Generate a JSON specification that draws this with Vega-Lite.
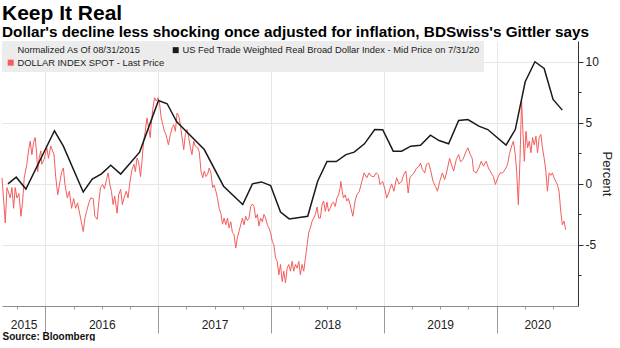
{
"$schema": "https://vega.github.io/schema/vega-lite/v6.json",
"width": 576,
"height": 265,
"padding": {"left": 0, "top": 2, "right": 0, "bottom": 0},
"background": "white",
"title": {"text": "Keep It Real", "subtitle": "Dollar's decline less shocking once adjusted for inflation, BDSwiss's Gittler says", "anchor": "start", "dx": 2, "font": "Liberation Sans", "fontSize": 21, "fontWeight": "bold", "color": "#000", "subtitleFont": "Liberation Sans", "subtitleFontSize": 15.3, "subtitleFontWeight": "bold", "subtitleColor": "#000", "subtitlePadding": 1, "offset": 1},
"config": {"view": {"stroke": null}, "axis": {"labelFont": "Liberation Sans", "titleFont": "Liberation Sans"}},
"datasets": {
"dxy": [
{"t":2015.616,"v":0.5},{"t":2015.645,"v":-3.2},{"t":2015.660,"v":-0.3},{"t":2015.689,"v":-1.15},{"t":2015.704,"v":-0.3},{"t":2015.719,"v":-2.0},{"t":2015.733,"v":-0.3},{"t":2015.748,"v":-1.15},{"t":2015.766,"v":-0.8},{"t":2015.784,"v":-2.65},{"t":2015.799,"v":-1.4},{"t":2015.813,"v":0.5},{"t":2015.836,"v":1.6},{"t":2015.851,"v":2.7},{"t":2015.866,"v":3.5},{"t":2015.881,"v":2.4},{"t":2015.896,"v":3.4},{"t":2015.910,"v":3.8},{"t":2015.922,"v":2.6},{"t":2015.933,"v":1.0},{"t":2015.945,"v":2.1},{"t":2015.960,"v":2.7},{"t":2015.969,"v":1.6},{"t":2015.989,"v":2.0},
{"t":2016.013,"v":2.95},{"t":2016.028,"v":2.1},{"t":2016.048,"v":3.1},{"t":2016.077,"v":2.4},{"t":2016.092,"v":0.6},{"t":2016.110,"v":-0.9},{"t":2016.130,"v":0.2},{"t":2016.145,"v":1.0},{"t":2016.160,"v":1.3},{"t":2016.174,"v":-0.05},{"t":2016.195,"v":-1.15},{"t":2016.213,"v":-0.6},{"t":2016.233,"v":-2.0},{"t":2016.251,"v":-1.2},{"t":2016.269,"v":-2.0},{"t":2016.286,"v":-1.55},{"t":2016.306,"v":-2.5},{"t":2016.336,"v":-3.9},{"t":2016.351,"v":-2.8},{"t":2016.366,"v":-2.25},{"t":2016.386,"v":-1.55},{"t":2016.403,"v":-1.15},{"t":2016.425,"v":-1.2},{"t":2016.439,"v":-2.65},{"t":2016.460,"v":-2.9},{"t":2016.474,"v":-1.5},{"t":2016.489,"v":-0.3},{"t":2016.507,"v":-0.05},{"t":2016.524,"v":-0.4},{"t":2016.542,"v":0.35},{"t":2016.557,"v":0.9},{"t":2016.571,"v":0.0},{"t":2016.586,"v":-0.6},{"t":2016.601,"v":-1.7},{"t":2016.615,"v":-1.0},{"t":2016.636,"v":-2.4},{"t":2016.650,"v":-0.9},{"t":2016.668,"v":-0.45},{"t":2016.683,"v":-1.7},{"t":2016.698,"v":-1.15},{"t":2016.718,"v":-0.6},{"t":2016.733,"v":-1.15},{"t":2016.751,"v":0.2},{"t":2016.769,"v":1.2},{"t":2016.786,"v":1.6},{"t":2016.798,"v":1.0},{"t":2016.813,"v":2.1},{"t":2016.827,"v":1.8},{"t":2016.844,"v":0.6},{"t":2016.857,"v":1.85},{"t":2016.871,"v":3.5},{"t":2016.886,"v":4.3},{"t":2016.901,"v":5.4},{"t":2016.915,"v":4.6},{"t":2016.930,"v":3.8},{"t":2016.939,"v":4.85},{"t":2016.954,"v":6.2},{"t":2016.968,"v":7.05},{"t":2016.983,"v":6.8},{"t":2016.998,"v":7.05},
{"t":2017.012,"v":6.65},{"t":2017.027,"v":5.4},{"t":2017.042,"v":4.85},{"t":2017.056,"v":4.3},{"t":2017.071,"v":4.0},{"t":2017.091,"v":3.2},{"t":2017.109,"v":4.05},{"t":2017.124,"v":4.6},{"t":2017.139,"v":4.85},{"t":2017.153,"v":4.3},{"t":2017.168,"v":5.8},{"t":2017.183,"v":5.55},{"t":2017.197,"v":4.85},{"t":2017.212,"v":3.8},{"t":2017.227,"v":2.8},{"t":2017.241,"v":4.05},{"t":2017.256,"v":4.45},{"t":2017.271,"v":3.8},{"t":2017.285,"v":3.0},{"t":2017.300,"v":2.4},{"t":2017.315,"v":3.5},{"t":2017.329,"v":3.1},{"t":2017.351,"v":2.95},{"t":2017.365,"v":2.6},{"t":2017.380,"v":1.05},{"t":2017.395,"v":0.5},{"t":2017.409,"v":1.05},{"t":2017.424,"v":0.6},{"t":2017.439,"v":0.8},{"t":2017.453,"v":1.3},{"t":2017.468,"v":0.9},{"t":2017.483,"v":-0.3},{"t":2017.497,"v":-0.1},{"t":2017.512,"v":-0.6},{"t":2017.527,"v":-1.2},{"t":2017.541,"v":-2.0},{"t":2017.556,"v":-2.4},{"t":2017.571,"v":-3.3},{"t":2017.585,"v":-2.8},{"t":2017.600,"v":-3.35},{"t":2017.615,"v":-2.8},{"t":2017.629,"v":-3.6},{"t":2017.644,"v":-3.1},{"t":2017.659,"v":-4.0},{"t":2017.673,"v":-4.15},{"t":2017.688,"v":-5.25},{"t":2017.703,"v":-4.4},{"t":2017.717,"v":-3.9},{"t":2017.732,"v":-3.35},{"t":2017.747,"v":-2.8},{"t":2017.762,"v":-3.35},{"t":2017.776,"v":-2.65},{"t":2017.791,"v":-3.0},{"t":2017.806,"v":-2.8},{"t":2017.821,"v":-1.85},{"t":2017.836,"v":-1.65},{"t":2017.850,"v":-1.85},{"t":2017.865,"v":-2.8},{"t":2017.880,"v":-2.5},{"t":2017.894,"v":-3.45},{"t":2017.909,"v":-2.8},{"t":2017.924,"v":-3.1},{"t":2017.938,"v":-2.5},{"t":2017.953,"v":-2.8},{"t":2017.968,"v":-3.35},{"t":2017.982,"v":-3.6},{"t":2017.997,"v":-4.0},
{"t":2018.012,"v":-4.7},{"t":2018.026,"v":-5.0},{"t":2018.041,"v":-6.05},{"t":2018.056,"v":-6.35},{"t":2018.070,"v":-7.45},{"t":2018.085,"v":-6.6},{"t":2018.100,"v":-8.0},{"t":2018.114,"v":-7.15},{"t":2018.129,"v":-8.1},{"t":2018.144,"v":-6.9},{"t":2018.158,"v":-6.6},{"t":2018.173,"v":-7.15},{"t":2018.188,"v":-6.35},{"t":2018.202,"v":-7.15},{"t":2018.217,"v":-6.6},{"t":2018.232,"v":-6.9},{"t":2018.247,"v":-6.35},{"t":2018.261,"v":-7.45},{"t":2018.276,"v":-6.6},{"t":2018.291,"v":-7.15},{"t":2018.306,"v":-6.05},{"t":2018.321,"v":-5.0},{"t":2018.335,"v":-4.0},{"t":2018.350,"v":-3.6},{"t":2018.365,"v":-3.05},{"t":2018.379,"v":-2.8},{"t":2018.394,"v":-2.5},{"t":2018.409,"v":-1.9},{"t":2018.423,"v":-2.8},{"t":2018.438,"v":-2.8},{"t":2018.453,"v":-1.7},{"t":2018.467,"v":-1.4},{"t":2018.482,"v":-2.25},{"t":2018.497,"v":-1.5},{"t":2018.511,"v":-2.25},{"t":2018.526,"v":-2.0},{"t":2018.541,"v":-1.6},{"t":2018.555,"v":-1.5},{"t":2018.570,"v":-1.85},{"t":2018.585,"v":-1.15},{"t":2018.599,"v":-0.9},{"t":2018.614,"v":-0.3},{"t":2018.620,"v":0.2},{"t":2018.632,"v":-0.6},{"t":2018.643,"v":-1.15},{"t":2018.658,"v":-0.9},{"t":2018.673,"v":-1.4},{"t":2018.687,"v":-1.2},{"t":2018.702,"v":-1.7},{"t":2018.726,"v":-2.65},{"t":2018.746,"v":-1.4},{"t":2018.761,"v":-0.9},{"t":2018.784,"v":-0.6},{"t":2018.806,"v":0.2},{"t":2018.826,"v":0.9},{"t":2018.850,"v":0.5},{"t":2018.870,"v":0.9},{"t":2018.894,"v":0.6},{"t":2018.914,"v":0.6},{"t":2018.932,"v":0.9},{"t":2018.952,"v":0.75},{"t":2018.967,"v":-0.05},{"t":2018.991,"v":0.2},
{"t":2019.011,"v":-0.45},{"t":2019.026,"v":-1.15},{"t":2019.049,"v":-0.6},{"t":2019.070,"v":0.0},{"t":2019.090,"v":-0.6},{"t":2019.114,"v":0.5},{"t":2019.135,"v":0.0},{"t":2019.158,"v":0.2},{"t":2019.179,"v":0.8},{"t":2019.196,"v":1.05},{"t":2019.217,"v":-0.75},{"t":2019.232,"v":0.5},{"t":2019.252,"v":0.75},{"t":2019.269,"v":0.9},{"t":2019.291,"v":1.3},{"t":2019.314,"v":1.45},{"t":2019.326,"v":1.7},{"t":2019.344,"v":1.15},{"t":2019.364,"v":0.9},{"t":2019.379,"v":1.6},{"t":2019.399,"v":1.7},{"t":2019.417,"v":1.05},{"t":2019.437,"v":0.2},{"t":2019.458,"v":-0.2},{"t":2019.476,"v":-0.6},{"t":2019.496,"v":0.2},{"t":2019.520,"v":0.9},{"t":2019.540,"v":0.35},{"t":2019.560,"v":1.05},{"t":2019.584,"v":2.1},{"t":2019.599,"v":1.6},{"t":2019.620,"v":1.05},{"t":2019.643,"v":2.0},{"t":2019.664,"v":2.4},{"t":2019.681,"v":1.8},{"t":2019.702,"v":2.0},{"t":2019.725,"v":2.55},{"t":2019.746,"v":2.95},{"t":2019.767,"v":2.4},{"t":2019.784,"v":2.1},{"t":2019.796,"v":1.05},{"t":2019.820,"v":0.9},{"t":2019.843,"v":1.3},{"t":2019.864,"v":1.85},{"t":2019.884,"v":1.45},{"t":2019.908,"v":1.85},{"t":2019.928,"v":1.3},{"t":2019.952,"v":0.9},{"t":2019.972,"v":0.6},{"t":2019.990,"v":-0.05},
{"t":2020.010,"v":0.5},{"t":2020.031,"v":0.9},{"t":2020.054,"v":0.9},{"t":2020.075,"v":1.15},{"t":2020.098,"v":1.6},{"t":2020.113,"v":2.4},{"t":2020.134,"v":3.1},{"t":2020.149,"v":3.5},{"t":2020.166,"v":2.4},{"t":2020.178,"v":1.05},{"t":2020.193,"v":-1.7},{"t":2020.208,"v":2.1},{"t":2020.222,"v":6.8},{"t":2020.231,"v":4.85},{"t":2020.246,"v":1.85},{"t":2020.261,"v":4.3},{"t":2020.275,"v":2.95},{"t":2020.290,"v":3.5},{"t":2020.305,"v":2.55},{"t":2020.319,"v":3.8},{"t":2020.334,"v":3.2},{"t":2020.349,"v":3.9},{"t":2020.363,"v":2.55},{"t":2020.378,"v":3.8},{"t":2020.393,"v":4.05},{"t":2020.407,"v":2.95},{"t":2020.422,"v":2.1},{"t":2020.437,"v":1.05},{"t":2020.451,"v":-0.6},{"t":2020.466,"v":0.9},{"t":2020.481,"v":0.7},{"t":2020.495,"v":0.9},{"t":2020.510,"v":0.5},{"t":2020.525,"v":0.2},{"t":2020.539,"v":-0.05},{"t":2020.554,"v":-0.6},{"t":2020.569,"v":-2.25},{"t":2020.583,"v":-3.35},{"t":2020.598,"v":-3.05},{"t":2020.613,"v":-3.75}
],
"real": [
{"t":2015.669,"v":0.0},{"t":2015.742,"v":0.55},{"t":2015.828,"v":-0.42},{"t":2016.081,"v":4.35},{"t":2016.160,"v":3.09},{"t":2016.336,"v":-0.66},{"t":2016.416,"v":0.4},{"t":2016.498,"v":0.82},{"t":2016.580,"v":1.53},{"t":2016.668,"v":0.8},{"t":2016.836,"v":2.6},{"t":2017.003,"v":6.83},{"t":2017.080,"v":6.56},{"t":2017.165,"v":5.08},{"t":2017.409,"v":2.81},{"t":2017.580,"v":-0.19},{"t":2017.750,"v":-1.69},{"t":2017.836,"v":0.0},{"t":2017.915,"v":0.16},{"t":2017.997,"v":-0.14},{"t":2018.085,"v":-2.3},{"t":2018.162,"v":-2.87},{"t":2018.326,"v":-2.65},{"t":2018.414,"v":0.22},{"t":2018.497,"v":1.83},{"t":2018.579,"v":1.83},{"t":2018.665,"v":2.4},{"t":2018.738,"v":2.6},{"t":2018.829,"v":3.28},{"t":2018.920,"v":4.45},{"t":2018.991,"v":4.43},{"t":2019.084,"v":2.68},{"t":2019.158,"v":2.68},{"t":2019.240,"v":3.09},{"t":2019.326,"v":3.17},{"t":2019.414,"v":3.99},{"t":2019.490,"v":3.55},{"t":2019.575,"v":3.28},{"t":2019.664,"v":5.19},{"t":2019.746,"v":5.27},{"t":2019.843,"v":4.73},{"t":2019.922,"v":4.45},{"t":2020.084,"v":3.17},{"t":2020.166,"v":4.45},{"t":2020.254,"v":8.36},{"t":2020.340,"v":10.0},{"t":2020.422,"v":9.45},{"t":2020.501,"v":6.91},{"t":2020.583,"v":6.04}
]
},
"layer": [
{
"data": {"name": "dxy"},
"mark": {"type": "line", "strokeWidth": 1, "interpolate": "linear"},
"encoding": {
"x": {"field": "t", "type": "quantitative", "scale": {"domain": [2015.616, 2020.722], "nice": false, "zero": false},
 "axis": {"orient": "bottom", "values": [2015.75, 2016, 2016.25, 2016.5, 2016.75, 2017, 2017.25, 2017.5, 2017.75, 2018, 2018.25, 2018.5, 2018.75, 2019, 2019.25, 2019.5, 2019.75, 2020, 2020.25, 2020.5], "labels": false, "title": null, "domainColor": "#8c8c8c", "domainWidth": 1, "tickColor": "#9a9a9a", "tickSize": {"condition": {"test": "datum.value % 1 === 0", "value": 27}, "value": 3}, "grid": true, "gridColor": "#e6e6e6", "gridOpacity": {"condition": {"test": "datum.value % 1 === 0", "value": 1}, "value": 0}}},
"y": {"field": "v", "type": "quantitative", "scale": {"domain": [-10, 11.7], "nice": false, "zero": false},
 "axis": {"orient": "right", "values": [-7.5, -5, -2.5, 0, 2.5, 5, 7.5, 10], "labelExpr": "datum.value % 5 === 0 ? toString(datum.value) : ''", "labelFontSize": 12, "labelColor": "#222", "labelPadding": 2, "tickColor": "#333", "tickSize": {"condition": {"test": "datum.value % 5 === 0", "value": 5}, "value": 3}, "domainColor": "#333", "grid": true, "gridColor": "#e6e6e6", "gridOpacity": {"condition": {"test": "datum.value % 5 === 0", "value": 1}, "value": 0}, "title": "Percent", "titleFontSize": 13, "titleFontWeight": "normal", "titleColor": "#222", "titlePadding": 1}},
"color": {"datum": "dxy", "type": "nominal",
 "scale": {"domain": ["norm", "real", "dxy"], "range": ["rgba(0,0,0,0)", "#1a1a1a", "#f55d5d"]},
 "legend": {"orient": "top-left", "direction": "horizontal", "offset": 0, "title": null, "values": ["norm", "real", "dxy"], "columns": 2, "columnPadding": 6, "rowPadding": 2, "padding": 4, "fillColor": "#ececec", "symbolType": "square", "symbolSize": 36, "symbolStrokeWidth": 0, "labelFont": "Liberation Sans", "labelFontSize": 9.4, "labelColor": "#222", "labelOffset": 2, "labelLimit": 400,
  "labelExpr": "datum.label == 'norm' ? 'Normalized As Of 08/31/2015' : (datum.label == 'real' ? 'US Fed Trade Weighted Real Broad Dollar Index - Mid Price on 7/31/20' : 'DOLLAR INDEX SPOT - Last Price')",
  "encode": {"symbols": {"update": {"fill": {"scale": "color", "field": "value"}, "strokeWidth": {"value": 0}}}}}}
}
},
{
"data": {"name": "real"},
"mark": {"type": "line", "strokeWidth": 1.5},
"encoding": {
"x": {"field": "t", "type": "quantitative", "scale": {"domain": [2015.616, 2020.722], "nice": false, "zero": false},
 "axis": {"orient": "bottom", "values": [2015.808, 2016.5, 2017.5, 2018.5, 2019.5, 2020.361], "labelExpr": "toString(floor(datum.value))", "ticks": false, "domain": false, "grid": false, "labelFontSize": 12, "labelColor": "#222", "labelPadding": 13, "title": "Source: Bloomberg", "titleAnchor": "start", "titleAlign": "left", "titleFontSize": 10, "titleFontWeight": "bold", "titleColor": "#111", "titlePadding": 1}},
"y": {"field": "v", "type": "quantitative", "scale": {"domain": [-10, 11.7], "nice": false, "zero": false},
 "axis": {"orient": "right", "values": [-7.5, -5, -2.5, 0, 2.5, 5, 7.5, 10], "labelExpr": "datum.value % 5 === 0 ? toString(datum.value) : ''", "labelFontSize": 12, "labelColor": "#222", "labelPadding": 2, "tickColor": "#333", "tickSize": {"condition": {"test": "datum.value % 5 === 0", "value": 5}, "value": 3}, "domainColor": "#333", "grid": true, "gridColor": "#e6e6e6", "gridOpacity": {"condition": {"test": "datum.value % 5 === 0", "value": 1}, "value": 0}, "title": "Percent", "titleFontSize": 13, "titleFontWeight": "normal", "titleColor": "#222", "titlePadding": 1}},
"color": {"datum": "real", "type": "nominal"}
}
}
],
"resolve": {"axis": {"x": "independent"}}
}
